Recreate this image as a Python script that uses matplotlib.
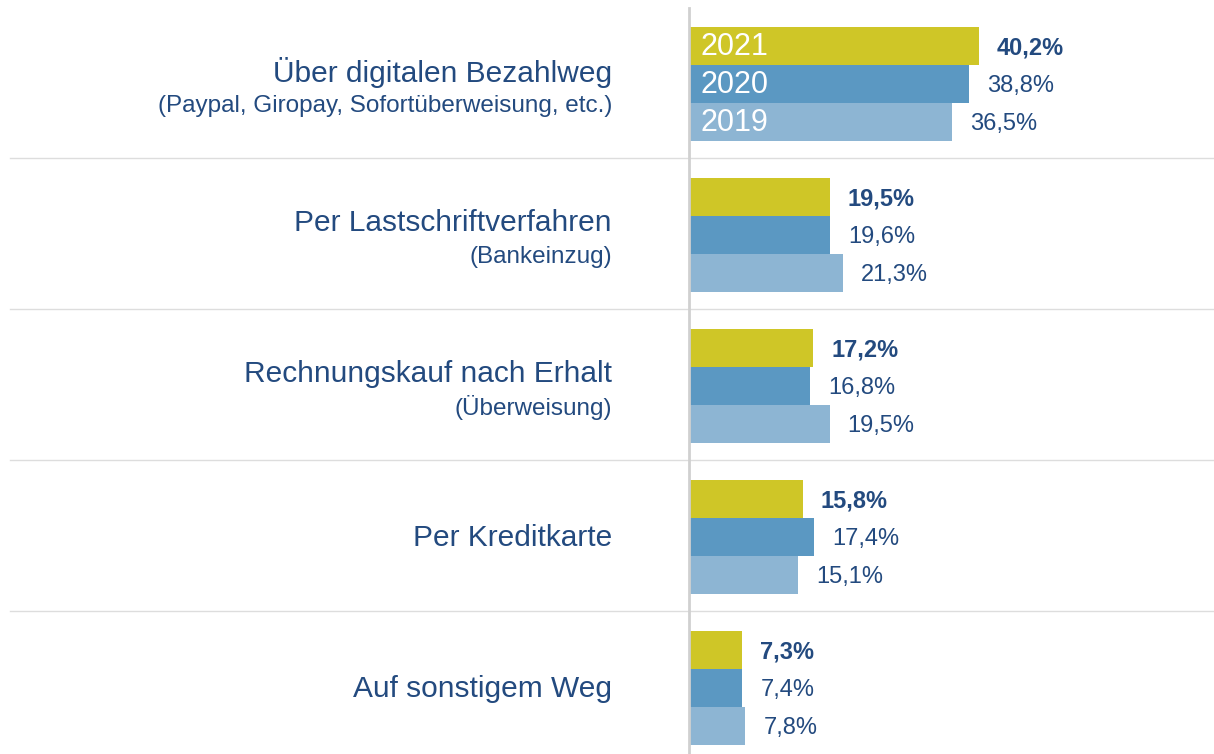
"""Zahlungswege im Online-Handel, Anteile 2019-2021."""

import matplotlib.pyplot as plt
import numpy as np

# Kategorien (Haupttext, Zusatz)
CATEGORIES = [
    "Über digitalen Bezahlweg",
    "Per Lastschriftverfahren",
    "Rechnungskauf nach Erhalt",
    "Per Kreditkarte",
    "Auf sonstigem Weg",
]
SUBTITLES = [
    "(Paypal, Giropay, Sofortüberweisung, etc.)",
    "(Bankeinzug)",
    "(Überweisung)",
    "",
    "",
]

YEARS = ["2021", "2020", "2019"]
VALUES_2021 = [40.2, 19.5, 17.2, 15.8, 7.3]
VALUES_2020 = [38.8, 19.6, 16.8, 17.4, 7.4]
VALUES_2019 = [36.5, 21.3, 19.5, 15.1, 7.8]

COLORS = {"2021": "#cfc627", "2020": "#5b98c2", "2019": "#8db5d3"}
TEXT_COLOR = "#234a7f"

plt.rcParams["font.family"] = ["Liberation Sans", "DejaVu Sans"]

fig = plt.figure(figsize=(12.14, 7.54), dpi=100)
ax = fig.add_axes([0, 0, 1, 1])

# pixel scale: 7.21 px per percent, zero line at x=689 px
px_per_unit = 7.21
x_left = -689 / px_per_unit
x_right = (1214 - 689) / px_per_unit
ax.set_xlim(x_left, x_right)

# group spacing 151 px, first group centre at 84 px
grp_px = 151
y_top = -84 / grp_px
ax.set_ylim(y_top + 754 / grp_px, y_top)

bar_h = 38 / grp_px
y = np.arange(len(CATEGORIES))
series = {"2021": VALUES_2021, "2020": VALUES_2020, "2019": VALUES_2019}
offsets = {"2021": -bar_h, "2020": 0.0, "2019": bar_h}

for year in YEARS:
    vals = series[year]
    ax.barh(y + offsets[year], vals, height=bar_h, color=COLORS[year],
            edgecolor="none", zorder=2)
    for i, v in enumerate(vals):
        label = f"{v:.1f}%".replace(".", ",")
        ax.annotate(label, (v, y[i] + offsets[year]), xytext=(13, -1.5),
                    textcoords="offset points", va="center", ha="left",
                    fontsize=17, color=TEXT_COLOR,
                    fontweight="bold" if year == "2021" else "normal")
    # year labels inside first group
    ax.annotate(year, (0, y[0] + offsets[year]), xytext=(8, -1),
                textcoords="offset points", va="center", ha="left",
                fontsize=22, color="white")

# category labels
label_x = (612 - 689) / px_per_unit
for i, (cat, sub) in enumerate(zip(CATEGORIES, SUBTITLES)):
    if sub:
        ax.text(label_x, y[i] - 12 / grp_px, cat, ha="right", va="center",
                fontsize=21.5, color=TEXT_COLOR)
        ax.text(label_x, y[i] + 22 / grp_px, sub, ha="right", va="center",
                fontsize=17.5, color=TEXT_COLOR)
    else:
        ax.text(label_x, y[i] + 1 / grp_px, cat, ha="right", va="center",
                fontsize=21.5, color=TEXT_COLOR)

# separators between groups
sep_x0 = (10 - 689) / px_per_unit
for s in y[:-1] + 0.49:
    ax.plot([sep_x0, x_right], [s, s], color="#dddddd", lw=1, zorder=1)

# zero line
ax.plot([0, 0], [y_top + 8 / grp_px, y_top + 754 / grp_px], color="#d0d0d0",
        lw=2, zorder=3)

ax.axis("off")
fig.savefig("out.png", dpi=100)
